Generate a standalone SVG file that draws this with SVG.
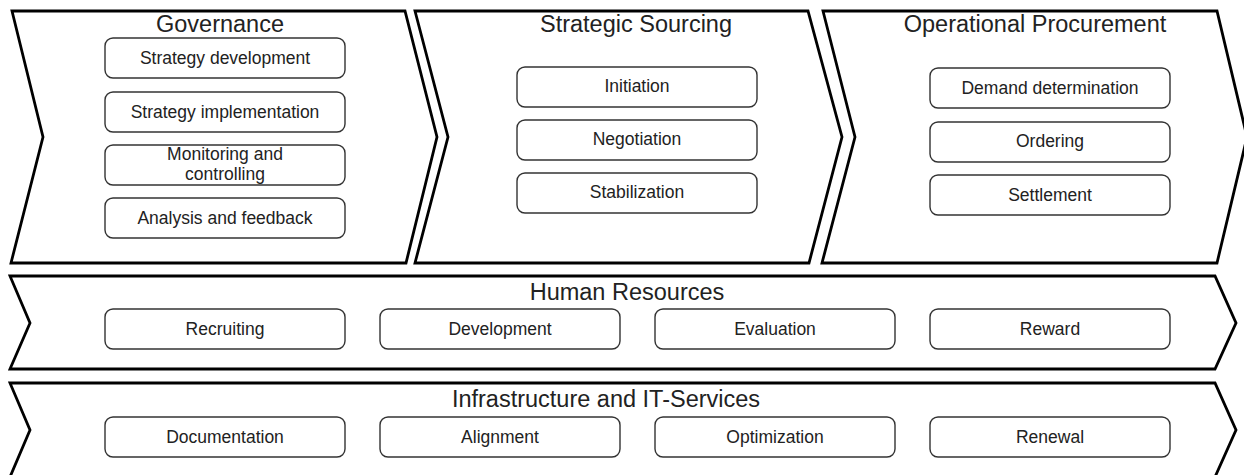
<svg xmlns="http://www.w3.org/2000/svg" width="1244" height="475" viewBox="0 0 1244 475">
<style>
.chev{fill:#fff;stroke:#000;stroke-width:2.8;stroke-linejoin:miter}
.box{fill:#fff;stroke:#333;stroke-width:1.4}
.title{font-family:"Liberation Sans",Arial,sans-serif;font-size:23.5px;fill:#222;text-anchor:middle}
.lbl{font-family:"Liberation Sans",Arial,sans-serif;font-size:17.5px;fill:#222;text-anchor:middle}
</style>
<rect width="1244" height="475" fill="#fff"/>
<g id="governance">
<polygon class="chev" points="12,11 405,11 437,137 406,263 11,263 43,137"/>
<text class="title" x="220" y="32">Governance</text>
<rect class="box" x="105" y="38" width="240" height="40" rx="8"/>
<text class="lbl" x="225" y="64">Strategy development</text>
<rect class="box" x="105" y="92" width="240" height="40" rx="8"/>
<text class="lbl" x="225" y="118">Strategy implementation</text>
<rect class="box" x="105" y="145" width="240" height="40" rx="8"/>
<text class="lbl" x="225" y="160">Monitoring and</text>
<text class="lbl" x="225" y="180">controlling</text>
<rect class="box" x="105" y="198" width="240" height="40" rx="8"/>
<text class="lbl" x="225" y="224">Analysis and feedback</text>
</g>
<g id="strategic-sourcing">
<polygon class="chev" points="415,11 808,11 842,137 809,263 415,263 448,137"/>
<text class="title" x="636" y="32">Strategic Sourcing</text>
<rect class="box" x="517" y="67" width="240" height="40" rx="8"/>
<text class="lbl" x="637" y="92">Initiation</text>
<rect class="box" x="517" y="120" width="240" height="40" rx="8"/>
<text class="lbl" x="637" y="145">Negotiation</text>
<rect class="box" x="517" y="173" width="240" height="40" rx="8"/>
<text class="lbl" x="637" y="198">Stabilization</text>
</g>
<g id="operational-procurement">
<polygon class="chev" points="823,11 1217,11 1247,137 1217,263 822,263 855,137"/>
<text class="title" x="1035" y="32">Operational Procurement</text>
<rect class="box" x="930" y="68" width="240" height="40" rx="8"/>
<text class="lbl" x="1050" y="94">Demand determination</text>
<rect class="box" x="930" y="122" width="240" height="40" rx="8"/>
<text class="lbl" x="1050" y="147">Ordering</text>
<rect class="box" x="930" y="175" width="240" height="40" rx="8"/>
<text class="lbl" x="1050" y="201">Settlement</text>
</g>
<g id="human-resources">
<polygon class="chev" points="10,276 1215,276 1236,323 1215,369 10,369 30,323"/>
<text class="title" x="627" y="300">Human Resources</text>
<rect class="box" x="105" y="309" width="240" height="40" rx="8"/>
<text class="lbl" x="225" y="335">Recruiting</text>
<rect class="box" x="380" y="309" width="240" height="40" rx="8"/>
<text class="lbl" x="500" y="335">Development</text>
<rect class="box" x="655" y="309" width="240" height="40" rx="8"/>
<text class="lbl" x="775" y="335">Evaluation</text>
<rect class="box" x="930" y="309" width="240" height="40" rx="8"/>
<text class="lbl" x="1050" y="335">Reward</text>
</g>
<g id="infrastructure">
<polygon class="chev" points="10,383 1215,383 1236,430 1215,477 10,477 30,430"/>
<text class="title" x="606" y="407">Infrastructure and IT-Services</text>
<rect class="box" x="105" y="417" width="240" height="40" rx="8"/>
<text class="lbl" x="225" y="443">Documentation</text>
<rect class="box" x="380" y="417" width="240" height="40" rx="8"/>
<text class="lbl" x="500" y="443">Alignment</text>
<rect class="box" x="655" y="417" width="240" height="40" rx="8"/>
<text class="lbl" x="775" y="443">Optimization</text>
<rect class="box" x="930" y="417" width="240" height="40" rx="8"/>
<text class="lbl" x="1050" y="443">Renewal</text>
</g>
<g id="connectors"></g>
</svg>
